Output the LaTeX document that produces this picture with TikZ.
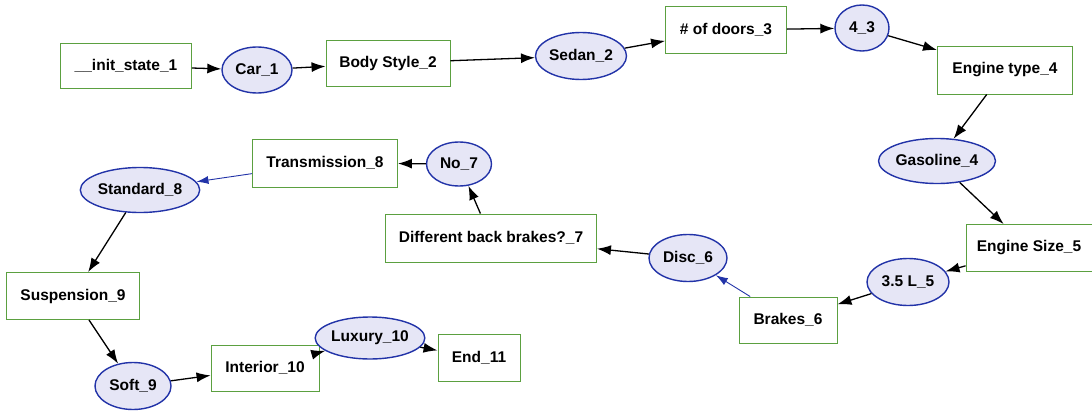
\documentclass[tikz,border=0pt]{standalone}
\usepackage{fontspec}
\setmainfont{Liberation Sans}
\usetikzlibrary{shapes.geometric,arrows.meta}
\definecolor{boxgreen}{HTML}{5BA040}
\definecolor{ellblue}{HTML}{2233A8}
\definecolor{ellfill}{HTML}{E6E6F6}
\tikzset{
  statebox/.style={draw=boxgreen, line width=0.9pt, fill=white, rectangle, inner sep=0pt,
    font=\fontsize{15.5}{17}\selectfont\bfseries, minimum height=47pt},
  choice/.style={draw=ellblue, line width=1.4pt, fill=ellfill, ellipse, inner sep=0pt,
    font=\fontsize{15.5}{17}\selectfont\bfseries, minimum height=46pt},
  link/.style={draw=black, line width=1.3pt, -{Latex[length=14pt,width=10pt]}},
  bluelink/.style={draw=ellblue, line width=0.9pt, -{Latex[length=12pt,width=8pt]}}
}
\begin{document}
\begin{tikzpicture}[x=1pt,y=-1pt]
\useasboundingbox (0,0) rectangle (1092,412);
% states (boxes) and chosen values (ellipses)
\node[statebox, minimum width=131pt, minimum height=45pt] (init) at (126,66) {\_\_init\_state\_1};
\node[choice, minimum width=70pt] (car) at (257,70) {Car\_1};
\node[statebox, minimum width=124pt, minimum height=46pt] (body) at (388,63) {Body Style\_2};
\node[choice, minimum width=91pt, minimum height=47pt] (sedan) at (581,56) {Sedan\_2};
\node[statebox, minimum width=121pt] (doors) at (726,30) {\# of doors\_3};
\node[choice, minimum width=54pt] (four) at (862,28) {4\_3};
\node[statebox, minimum width=135pt, minimum height=48pt] (etype) at (1005,70) {Engine type\_4};
\node[choice, minimum width=112pt, minimum height=45pt] (gas) at (937,161) {Gasoline\_4};
\node[statebox, minimum width=126pt] (esize) at (1029,248) {Engine Size\_5};
\node[choice, minimum width=82pt, minimum height=47pt] (liter) at (908,282) {3.5 L\_5};
\node[statebox, minimum width=98pt, minimum height=46pt] (brakes) at (788,320) {Brakes\_6};
\node[choice, minimum width=78pt, minimum height=47pt] (disc) at (688,258) {Disc\_6};
\node[statebox, minimum width=211pt, minimum height=48pt] (diff) at (491,238) {Different back brakes?\_7};
\node[choice, minimum width=65pt, minimum height=44pt] (no) at (459,164) {No\_7};
\node[statebox, minimum width=145pt, minimum height=48pt] (trans) at (325,163) {Transmission\_8};
\node[choice, minimum width=111pt, minimum height=45pt] (std) at (140,190) {Standard\_8};
\node[statebox, minimum width=133pt, minimum height=47pt] (susp) at (73,296) {Suspension\_9};
\node[choice, minimum width=76pt, minimum height=47pt] (soft) at (133,386) {Soft\_9};
\node[statebox, minimum width=108pt, minimum height=46pt] (inter) at (265,368) {Interior\_10};
\node[choice, minimum width=105pt, minimum height=42pt] (lux) at (370,338) {Luxury\_10};
\node[statebox, minimum width=82pt, minimum height=47pt] (end) at (479,358) {End\_11};
% transitions
\draw[link] (init) -- (car);
\draw[link] (car) -- (body);
\draw[link] (body) -- (sedan);
\draw[link] (sedan) -- (doors);
\draw[link] (doors) -- (four);
\draw[link] (four) -- (etype);
\draw[link] (etype) -- (gas);
\draw[link] (gas) -- (esize);
\draw[link] (esize) -- (liter);
\draw[link] (liter) -- (brakes);
\draw[bluelink] (brakes) -- (disc);
\draw[link] (disc) -- (diff);
\draw[link] (diff) -- (no);
\draw[link] (no) -- (trans);
\draw[bluelink] (trans) -- (std);
\draw[link] (std) -- (susp);
\draw[link] (susp) -- (soft);
\draw[link] (soft) -- (inter);
\draw[link] (inter) -- (lux);
\draw[link] (lux) -- (end);
\end{tikzpicture}
\end{document}
